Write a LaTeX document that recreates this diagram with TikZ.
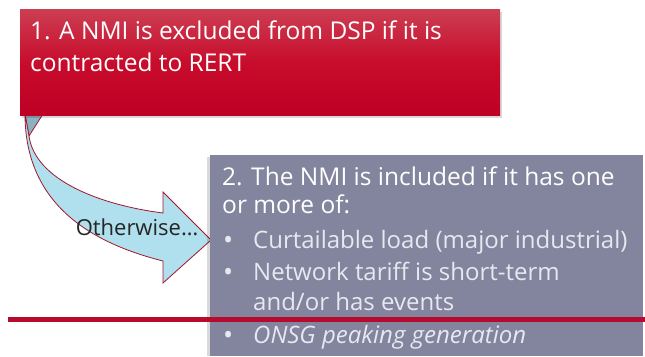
\documentclass[tikz,border=0pt]{standalone}
\usepackage{fontspec}
\setmainfont{Open Sans}
\usetikzlibrary{calc}
\definecolor{redtop}{RGB}{204,62,82}
\definecolor{redmid}{RGB}{200,12,44}
\definecolor{redbot}{RGB}{190,0,36}
\definecolor{boxgray}{RGB}{131,132,158}
\definecolor{arrowfill}{RGB}{176,223,238}
\definecolor{arrowback}{RGB}{140,178,194}
\definecolor{arrowline}{RGB}{160,24,44}
\definecolor{rulered}{RGB}{183,10,46}
\definecolor{bullettext}{RGB}{232,232,240}
\tikzset{
  headtext/.style={anchor=base west, inner sep=0pt, text=white, font=\fontsize{24.5}{28}\selectfont},
  itemtext/.style={anchor=base west, inner sep=0pt, text=bullettext, font=\fontsize{24}{28}\selectfont},
  bulletdot/.style={anchor=base west, inner sep=0pt, text=bullettext, font=\fontsize{27}{30}\selectfont},
  arrowshape/.style={fill=arrowfill, draw=arrowline, line width=0.8pt, line join=miter},
}
\begin{document}
\begin{tikzpicture}[x=1pt,y=-1pt]
\useasboundingbox (0,0) rectangle (645,356);
% arrow back face
\path[fill=arrowback, draw=arrowline, line width=0.8pt] (25,114) -- (43,114) -- (29,136) -- cycle;
% curved arrow
\path[arrowshape] (25,114) .. controls (25,210) and (100,245) .. (163,261)
  -- (163,283) -- (211,240) -- (163,192) -- (163,213)
  .. controls (100,205) and (35,180) .. (29,136) -- cycle;
\node[anchor=base, inner sep=0pt, text=black!85, font=\fontsize{22}{26}\selectfont] (oth) at (137,235) {Otherwise…};
% red box
\fill[black, opacity=0.15] (22,12) rectangle (502,118);
\node[draw=none, anchor=north west, minimum width=480pt, minimum height=106pt, inner sep=0pt,
  top color=redtop, bottom color=redbot, middle color=redmid] (box1) at (20,9) {};
\node[headtext] (t1a) at (30,39) {1. A NMI is excluded from DSP if it is};
\node[headtext] (t1b) at (30,71) {contracted to RERT};
% gray box
\fill[black, opacity=0.15] (207,157) rectangle (643,356);
\node[fill=boxgray, anchor=north west, minimum width=433pt, minimum height=201pt, inner sep=0pt] (box2) at (210,155) {};
\node[headtext] (t2a) at (222,185) {2. The NMI is included if it has one};
\node[headtext] (t2b) at (222,213) {or more of:};
\node[bulletdot] (b1) at (223,249) {•};
\node[itemtext] (i1) at (253,248) {Curtailable load (major industrial)};
\node[bulletdot] (b2) at (223,281) {•};
\node[itemtext] (i2) at (253,280) {Network tariff is short-term};
\node[itemtext] (i2b) at (253,310) {and/or has events};
\node[bulletdot] (b3) at (223,344) {•};
\node[itemtext, font=\fontsize{24}{28}\selectfont\itshape] (i3) at (253,343) {ONSG peaking generation};
% red rule
\coordinate (r1) at (8,319.5);
\coordinate (r2) at (645,319.5);
\draw[rulered, line width=4.5pt] (r1) -- (r2);
\end{tikzpicture}
\end{document}
